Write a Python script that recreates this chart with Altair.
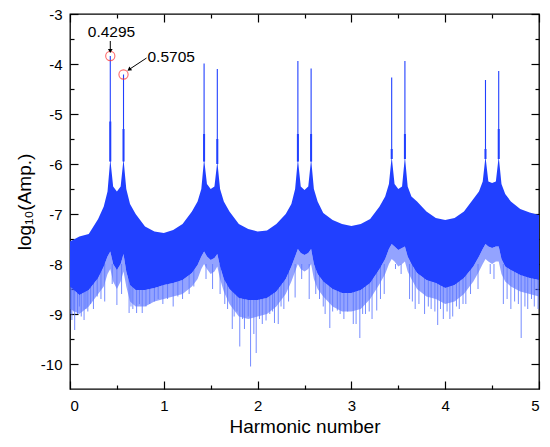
import altair as alt
import pandas as pd

# ---- envelope knots (harmonic number) ----
xs = [0.00, 0.10, 0.20, 0.30, 0.36, 0.40, 0.4295, 0.46, 0.50, 0.54, 0.5705, 0.60, 0.64, 0.70, 0.80, 0.90,
      1.00, 1.10, 1.20, 1.30, 1.36, 1.40, 1.4295, 1.46, 1.50, 1.54, 1.5705, 1.60, 1.64, 1.70, 1.80, 1.90,
      2.00, 2.10, 2.20, 2.30, 2.36, 2.40, 2.4295, 2.46, 2.50, 2.54, 2.5705, 2.60, 2.64, 2.70, 2.80, 2.90,
      3.00, 3.10, 3.20, 3.30, 3.36, 3.40, 3.4295, 3.46, 3.50, 3.54, 3.5705, 3.60, 3.64, 3.70, 3.80, 3.90,
      4.00, 4.10, 4.20, 4.30, 4.36, 4.40, 4.4295, 4.46, 4.50, 4.54, 4.5705, 4.60, 4.64, 4.70, 4.80, 4.90,
      5.00]

upper = [-7.55, -7.45, -7.40, -7.10, -6.85, -6.55, -5.90, -6.45, -6.55, -6.45, -5.90, -6.50, -6.80, -7.00, -7.25, -7.35,
         -7.38, -7.32, -7.20, -6.95, -6.75, -6.50, -5.90, -6.40, -6.50, -6.45, -5.95, -6.50, -6.75, -6.95, -7.20, -7.30,
         -7.35, -7.33, -7.20, -7.00, -6.80, -6.50, -5.90, -6.45, -6.52, -6.45, -5.90, -6.50, -6.75, -6.98, -7.12, -7.20,
         -7.24, -7.20, -7.10, -6.85, -6.65, -6.40, -5.85, -6.40, -6.50, -6.45, -5.85, -6.45, -6.65, -6.75, -6.95, -7.08,
         -7.12, -7.08, -6.95, -6.70, -6.55, -6.35, -5.85, -6.35, -6.38, -6.35, -5.85, -6.40, -6.60, -6.75, -6.90, -6.97,
         -7.02]

lower = [-8.45, -8.62, -8.52, -8.28, -8.05, -7.85, -7.75, -8.00, -8.12, -8.00, -7.80, -8.15, -8.42, -8.52, -8.52, -8.48,
         -8.42, -8.38, -8.32, -8.18, -8.02, -7.85, -7.75, -7.85, -7.92, -7.88, -7.80, -8.05, -8.30, -8.50, -8.68, -8.72,
         -8.72, -8.68, -8.55, -8.30, -8.05, -7.85, -7.70, -7.78, -7.82, -7.78, -7.70, -8.00, -8.20, -8.35, -8.50, -8.58,
         -8.58, -8.52, -8.38, -8.10, -7.90, -7.70, -7.60, -7.65, -7.72, -7.68, -7.65, -7.85, -8.00, -8.18, -8.32, -8.38,
         -8.48, -8.42, -8.28, -8.05, -7.85, -7.70, -7.60, -7.65, -7.68, -7.65, -7.65, -7.90, -8.05, -8.12, -8.22, -8.28,
         -8.32]

fringe = [-8.90, -9.00, -8.85, -8.60, -8.45, -8.20, -8.10, -8.35, -8.50, -8.35, -8.15, -8.45, -8.75, -8.85, -8.85, -8.75,
          -8.70, -8.65, -8.60, -8.45, -8.30, -8.10, -8.00, -8.10, -8.20, -8.15, -8.05, -8.30, -8.55, -8.80, -9.05, -9.10,
          -9.05, -9.00, -8.85, -8.60, -8.35, -8.15, -8.00, -8.10, -8.15, -8.10, -8.00, -8.30, -8.50, -8.65, -8.85, -8.95,
          -8.95, -8.90, -8.70, -8.40, -8.20, -8.00, -7.90, -7.95, -8.05, -8.00, -7.95, -8.15, -8.30, -8.50, -8.65, -8.70,
          -8.80, -8.75, -8.60, -8.35, -8.15, -8.00, -7.90, -7.95, -8.00, -7.95, -7.95, -8.20, -8.35, -8.45, -8.55, -8.60,
          -8.65]

# ---- isolated downward spikes ----
spike_x = [0.01, 0.02, 0.04, 0.05, 0.08, 0.10, 0.12, 0.15, 0.17, 0.19, 0.22, 0.25, 0.29, 0.33, 0.37, 0.45, 0.50, 0.55,
           0.63, 0.65, 0.67, 0.71, 0.74, 0.77, 0.81, 0.85, 0.90, 0.94, 0.99, 1.04, 1.10, 1.15, 1.20, 1.27, 1.32,
           1.45, 1.52, 1.60, 1.65, 1.68, 1.73, 1.75, 1.78, 1.81, 1.84, 1.86, 1.90, 1.925, 1.96, 1.985,
           2.02, 2.05, 2.09, 2.13, 2.16, 2.18, 2.22, 2.25, 2.28, 2.33, 2.40, 2.47, 2.55, 2.62, 2.66, 2.70, 2.72, 2.77,
           2.80, 2.85, 2.88, 2.92, 2.96, 3.02, 3.05, 3.09, 3.12, 3.15, 3.19, 3.22, 3.27, 3.31, 3.35, 3.47, 3.53,
           3.62, 3.65, 3.68, 3.72, 3.78, 3.82, 3.85, 3.89, 3.92, 3.95, 3.98, 4.02, 4.05, 4.08, 4.12, 4.15, 4.19,
           4.22, 4.27, 4.35, 4.48, 4.52, 4.62, 4.66, 4.70, 4.74, 4.78, 4.81, 4.85, 4.88, 4.92, 4.95, 4.99]
spike_y = [-9.00, -9.12, -8.95, -9.32, -9.00, -8.85, -9.05, -9.12, -8.90, -8.95, -8.80, -8.90, -8.65, -8.70, -8.75, -8.40, -8.82, -8.60,
           -8.98, -8.85, -8.90, -8.98, -8.80, -8.98, -8.85, -8.80, -8.75, -8.70, -8.80, -8.70, -8.85, -8.65, -8.70, -8.60, -8.45,
           -8.30, -8.50, -8.60, -8.80, -8.90, -9.30, -9.05, -8.95, -9.65, -9.10, -9.30, -9.05, -10.05, -9.40, -9.78,
           -9.10, -9.20, -9.13, -9.00, -8.95, -9.18, -9.20, -8.85, -8.90, -8.75, -8.67, -8.30, -8.70, -8.60, -8.70, -8.85, -9.00, -9.28,
           -8.95, -8.93, -9.00, -9.10, -8.95, -9.20, -9.20, -9.48, -9.00, -9.00, -8.95, -9.10, -8.93, -8.70, -8.60, -8.10, -8.20,
           -8.70, -8.75, -8.90, -8.80, -9.00, -8.85, -8.90, -8.95, -9.22, -8.90, -9.10, -8.95, -9.10, -9.05, -8.85, -8.90, -8.80,
           -8.80, -8.60, -8.50, -8.20, -8.30, -8.80, -8.70, -8.90, -8.75, -8.80, -9.48, -8.85, -8.90, -8.70, -8.85, -8.90]

# ---- sharp peaks ----
peak_x = [0.4295, 0.5705, 1.4295, 1.5705, 2.4295, 2.5705, 3.4295, 3.5705, 4.4295, 4.5705]
peak_top = [-3.84, -4.21, -3.99, -4.10, -3.94, -4.09, -4.27, -3.94, -4.32, -4.14]
peak_mid = [-5.15, -5.30, -5.40, -5.50, -5.40, -5.40, -5.70, -5.40, -5.70, -5.30]
peak_base = [-5.95, -5.95, -5.95, -6.00, -5.95, -5.95, -5.90, -5.90, -5.90, -5.90]

# ---- annotations ----
mark_x = [0.4295, 0.5705]
mark_y = [-3.84, -4.21]
label_text = ["0.4295", "0.5705"]
label_x = [0.442, 0.826]
label_y = [-3.36, -3.86]
arrow_x1 = [0.4295, 0.816]
arrow_y1 = [-3.54, -3.88]
arrow_x2 = [0.4295, 0.630]
arrow_y2 = [-3.74, -4.11]
arrow_angle = [180, 234]

# ---- axis ticks ----
x_major = [0, 1, 2, 3, 4, 5]
x_minor = [0.5, 1.5, 2.5, 3.5, 4.5]
y_major = [-3, -4, -5, -6, -7, -8, -9, -10]
y_minor = [-3.5, -4.5, -5.5, -6.5, -7.5, -8.5, -9.5]

W, H = 469, 375
BLUE = "#2140ff"
FONT = "Liberation Sans"

env = pd.DataFrame({"x": xs, "upper": upper, "lower": lower, "fringe": fringe})
spikes = pd.DataFrame({"x": spike_x, "y": spike_y})
peaks = pd.DataFrame({"x": peak_x, "top": peak_top, "mid": peak_mid, "base": peak_base})
marks = pd.DataFrame({"x": mark_x, "y": mark_y})
labels = pd.DataFrame({"t": label_text, "x": label_x, "y": label_y})
arrows = pd.DataFrame({"x1": arrow_x1, "y1": arrow_y1, "x2": arrow_x2, "y2": arrow_y2, "ang": arrow_angle})

xs_ = alt.Scale(domain=[0, 5], nice=False, zero=False)
ys_ = alt.Scale(domain=[-10.5, -3], nice=False, zero=False)

x_label_axis = alt.Axis(orient="bottom", values=x_major, ticks=False, domain=False, grid=False,
                        labelFont=FONT, labelFontSize=15, labelColor="black", labelPadding=9,
                        title="Harmonic number", titleFont=FONT, titleFontSize=19,
                        titleFontWeight="normal", titleColor="black", titlePadding=4, format="d")
y_label_axis = alt.Axis(orient="left", values=y_major, ticks=False, domain=False, grid=False,
                        labelFont=FONT, labelFontSize=15, labelColor="black", labelPadding=8,
                        labelExpr="datum.value < 0 ? '-' + (-datum.value) : '' + datum.value",
                        title="log₁₀(Amp.)", titleFont=FONT, titleFontSize=19,
                        titleFontWeight="normal", titleColor="black", titlePadding=6)


def tick_axis(orient, values, length):
    # negative tick length (via expression) draws the ticks inward, into the plot frame
    return alt.Axis(orient=orient, values=values, labels=False, domain=False, grid=False,
                    ticks=True, tickSize={"expr": str(-length)}, tickWidth=1.2,
                    tickColor="black", title="")


fringe_layer = alt.Chart(env).mark_area(color="#3a58ff", opacity=0.55, interpolate="linear").encode(
    x=alt.X("x:Q", scale=xs_, axis=x_label_axis),
    y=alt.Y("fringe:Q", scale=ys_, axis=y_label_axis),
    y2="lower:Q",
)

spike_layer = alt.Chart(spikes).mark_rule(color="#5d78ff", strokeWidth=1, opacity=0.85).encode(
    x=alt.X("x:Q", scale=xs_, axis=tick_axis("bottom", x_minor, 4)),
    y=alt.Y("y:Q", scale=ys_, axis=tick_axis("left", y_minor, 4)),
    y2=alt.datum(-8.0),
)

dense_layer = alt.Chart(env).mark_area(color=BLUE, opacity=1, interpolate="linear").encode(
    x=alt.X("x:Q", scale=xs_, axis=tick_axis("bottom", x_major, 8)),
    y=alt.Y("lower:Q", scale=ys_, axis=tick_axis("left", y_major, 8)),
    y2="upper:Q",
)

peak_thin = alt.Chart(peaks).mark_rule(color=BLUE, strokeWidth=1.1).encode(
    x=alt.X("x:Q", scale=xs_, axis=tick_axis("top", x_major, 8)),
    y=alt.Y("base:Q", scale=ys_, axis=tick_axis("right", y_major, 8)),
    y2="top:Q",
)

peak_thick = alt.Chart(peaks).mark_rule(color=BLUE, strokeWidth=2).encode(
    x=alt.X("x:Q", scale=xs_, axis=tick_axis("top", x_minor, 4)),
    y=alt.Y("base:Q", scale=ys_, axis=tick_axis("right", y_minor, 4)),
    y2="mid:Q",
)

circles = alt.Chart(marks).mark_point(shape="circle", size=85, filled=False, color="#ff3030",
                                      strokeWidth=1.1).encode(
    x=alt.X("x:Q", scale=xs_, axis=None),
    y=alt.Y("y:Q", scale=ys_, axis=None),
)

arrow_lines = alt.Chart(arrows).mark_rule(color="black", strokeWidth=1).encode(
    x=alt.X("x1:Q", scale=xs_, axis=None),
    y=alt.Y("y1:Q", scale=ys_, axis=None),
    x2="x2:Q",
    y2="y2:Q",
)

arrow_heads = alt.Chart(arrows).mark_point(shape="triangle-up", size=22, filled=True, color="black",
                                           opacity=1).encode(
    x=alt.X("x2:Q", scale=xs_, axis=None),
    y=alt.Y("y2:Q", scale=ys_, axis=None),
    angle=alt.Angle("ang:Q", scale=None),
)

label_first = alt.Chart(labels.iloc[[0]]).mark_text(font=FONT, fontSize=15.5, color="black",
                                                    baseline="middle", align="center").encode(
    x=alt.X("x:Q", scale=xs_, axis=None),
    y=alt.Y("y:Q", scale=ys_, axis=None),
    text="t:N",
)
label_second = alt.Chart(labels.iloc[[1]]).mark_text(font=FONT, fontSize=15.5, color="black",
                                                     baseline="middle", align="left").encode(
    x=alt.X("x:Q", scale=xs_, axis=None),
    y=alt.Y("y:Q", scale=ys_, axis=None),
    text="t:N",
)

chart = alt.layer(
    fringe_layer, spike_layer, dense_layer, peak_thin, peak_thick,
    circles, arrow_lines, arrow_heads, label_first, label_second,
).resolve_axis(x="independent", y="independent").properties(
    width=W, height=H, autosize="none",
    padding={"left": 70, "top": 14, "right": 11, "bottom": 58},
    background="white",
).configure_view(stroke="black", strokeWidth=1.3)

chart.save("out.html", embed_options={"renderer": "svg", "actions": False})
